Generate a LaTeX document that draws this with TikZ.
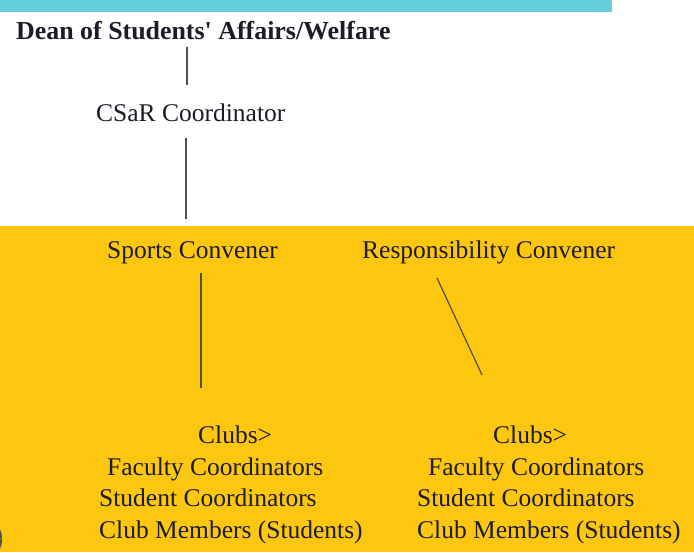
\documentclass[tikz,border=0pt]{standalone}
\usepackage{fontspec}
\setmainfont{Liberation Serif}
\definecolor{bandcyan}{HTML}{63CDD9}
\definecolor{panelgold}{HTML}{FDC70F}
\definecolor{inkline}{HTML}{505050}
\definecolor{inktext}{HTML}{1C1C28}
\begin{document}
\begin{tikzpicture}[x=1pt,y=-1pt,
  lbl/.style={anchor=base west,inner sep=0pt,text=inktext,font=\fontsize{25.5}{30}\selectfont},
  head/.style={lbl,font=\fontsize{25.9}{30}\selectfont\bfseries},
  link/.style={draw=inkline,line width=1.6pt}]
  \useasboundingbox (0,0) rectangle (694,552);
  % background bands
  \fill[bandcyan] (0,0) rectangle (612,12);
  \fill[panelgold] (0,226) rectangle (694,552);
  % top of the hierarchy
  \node[head] (dean) at (16,39) {Dean of Students\textquotesingle{} Affairs/Welfare};
  \node[lbl] (csar) at (96,121) {CSaR Coordinator};
  % conveners
  \node[lbl] (sports) at (107,258) {Sports Convener};
  \node[lbl] (resp) at (362,258) {Responsibility Convener};
  % club groups
  \node[lbl] (clubsL) at (198,443) {Clubs>};
  \node[lbl] (facL) at (107,475) {Faculty Coordinators};
  \node[lbl] (stuL) at (99,506) {Student Coordinators};
  \node[lbl] (memL) at (99,538) {Club Members (Students)};
  \node[lbl] (clubsR) at (493,443) {Clubs>};
  \node[lbl] (facR) at (428,475) {Faculty Coordinators};
  \node[lbl] (stuR) at (417,506) {Student Coordinators};
  \node[lbl] (memR) at (417,538) {Club Members (Students)};
  % small dark arc at the left edge
  \begin{scope}
    \clip (0,0) rectangle (694,552);
    \draw[inkline,line width=1.8pt] (-1,529) .. controls (2,535) and (2,543) .. (-1,549);
  \end{scope}
  % connectors
  \coordinate (a1) at (187,47);  \coordinate (a2) at (187,85);
  \coordinate (b1) at (186,138); \coordinate (b2) at (186,219);
  \coordinate (c1) at (201,273); \coordinate (c2) at (201,388);
  \coordinate (d1) at (437,278); \coordinate (d2) at (482,375);
  \draw[link] (a1) -- (a2);
  \draw[link] (b1) -- (b2);
  \draw[link] (c1) -- (c2);
  \draw[link,line width=1.2pt] (d1) -- (d2);
\end{tikzpicture}
\end{document}
